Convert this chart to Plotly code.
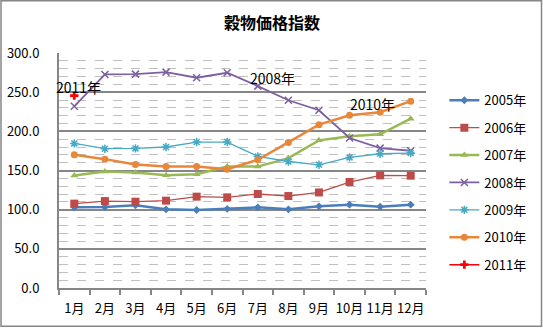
import plotly.graph_objects as go

months = ["1月", "2月", "3月", "4月", "5月", "6月", "7月", "8月", "9月", "10月", "11月", "12月"]
s2005 = [103, 103.4, 105.5, 100.4, 99.6, 101, 103, 100.4, 104.3, 106.4, 103.8, 106.4]
s2006 = [107.7, 111, 110.2, 111.5, 116.6, 115.7, 120, 117.4, 122, 135.3, 143.8, 143.4]
s2007 = [143.6, 148.7, 147.4, 144, 145.3, 155, 155, 165.8, 188.5, 193.6, 196.2, 216.2]
s2008 = [232, 272.6, 273, 275.6, 268.4, 274.8, 257.7, 239.7, 226.9, 191.5, 178.6, 175.2]
s2009 = [184.6, 177.8, 178.2, 180, 186.3, 186.3, 168, 161.5, 157.3, 166.7, 171.4, 172.2]
s2010 = [170.1, 164.5, 157.7, 155.1, 155.1, 151.7, 163.7, 185.9, 208.5, 220.5, 224.4, 238.5]
s2011 = [245.7]
names = ["2005年", "2006年", "2007年", "2008年", "2009年", "2010年", "2011年"]
yticks = [0, 50, 100, 150, 200, 250, 300]

FONT = "Noto Sans CJK JP"
styles = [
    dict(color="#4A7EBB", width=2.5, symbol="diamond", size=6),
    dict(color="#BE4B48", width=1.3, symbol="square", size=8),
    dict(color="#98B954", width=2.5, symbol="triangle-up", size=7),
    dict(color="#7D60A0", width=1.8, symbol="x-thin", size=7),
    dict(color="#46AAC5", width=1.3, symbol="asterisk", size=7),
    dict(color="#E8863A", width=2.5, symbol="circle", size=7),
    dict(color="#FF0000", width=1.5, symbol="cross", size=7),
]
series = [s2005, s2006, s2007, s2008, s2009, s2010, s2011]

fig = go.Figure()
for name, vals, st in zip(names, series, styles):
    thin = "thin" in st["symbol"] or st["symbol"] == "asterisk"
    fig.add_trace(go.Scatter(
        x=months[:len(vals)], y=vals, name=name, mode="lines+markers",
        line=dict(color=st["color"], width=st["width"]),
        marker=dict(symbol=st["symbol"], size=st["size"], color=st["color"],
                    line=dict(color=st["color"], width=1.5 if thin else 0)),
        legendgroup=name,
    ))

annots = [
    dict(x=0.13, y=257, text="2011年"),
    dict(x=6.47, y=268.6, text="2008年"),
    dict(x=9.74, y=235, text="2010年"),
]
for a in annots:
    fig.add_annotation(x=a["x"], y=a["y"], text=a["text"], showarrow=False,
                       xref="x", yref="y", font=dict(family=FONT, size=14, color="#000000"))

fig.add_shape(type="rect", xref="paper", yref="paper",
              x0=(1 - 59) / 367, x1=(541.5 - 59) / 367,
              y0=(288.3 - 326.5) / 235, y1=(288.3 - 1) / 235,
              line=dict(color="#868686", width=1.5), layer="below")

fig.update_layout(
    width=543, height=328,
    margin=dict(l=59, r=117, t=53, b=40),
    paper_bgcolor="white", plot_bgcolor="white",
    font=dict(family=FONT, color="#000000"),
    title=dict(text="<b>穀物価格指数</b>", x=272 / 543, xanchor="center", xref="container",
               y=1 - 23.5 / 328, yanchor="middle", yref="container",
               font=dict(size=16, family=FONT)),
    showlegend=True,
    legend=dict(x=1.05, y=0.8626, xanchor="left", yanchor="top",
                font=dict(size=13, family=FONT), tracegroupgap=7.5,
                bgcolor="rgba(0,0,0,0)"),
)
fig.update_xaxes(
    type="category", categoryorder="array", categoryarray=months,
    showline=True, linecolor="#868686", linewidth=2,
    ticks="outside", tickson="boundaries", ticklen=5, tickcolor="#868686", tickwidth=1.5,
    ticklabelstandoff=7, automargin=False,
    showgrid=False, tickfont=dict(size=13, family=FONT), tickangle=0, range=[-0.5, 11.5],
)
fig.update_yaxes(
    range=[0, 300], tickvals=yticks, tickformat=".1f",
    showline=True, linecolor="#868686", linewidth=2,
    ticks="", ticklabelstandoff=15, automargin=False,
    showgrid=True, gridcolor="#868686", gridwidth=2,
    minor=dict(dtick=10, showgrid=True, gridcolor="#C0C0C0", griddash="dash", gridwidth=1),
    tickfont=dict(size=13, family=FONT), zeroline=False,
)
fig.write_html("out.html")
